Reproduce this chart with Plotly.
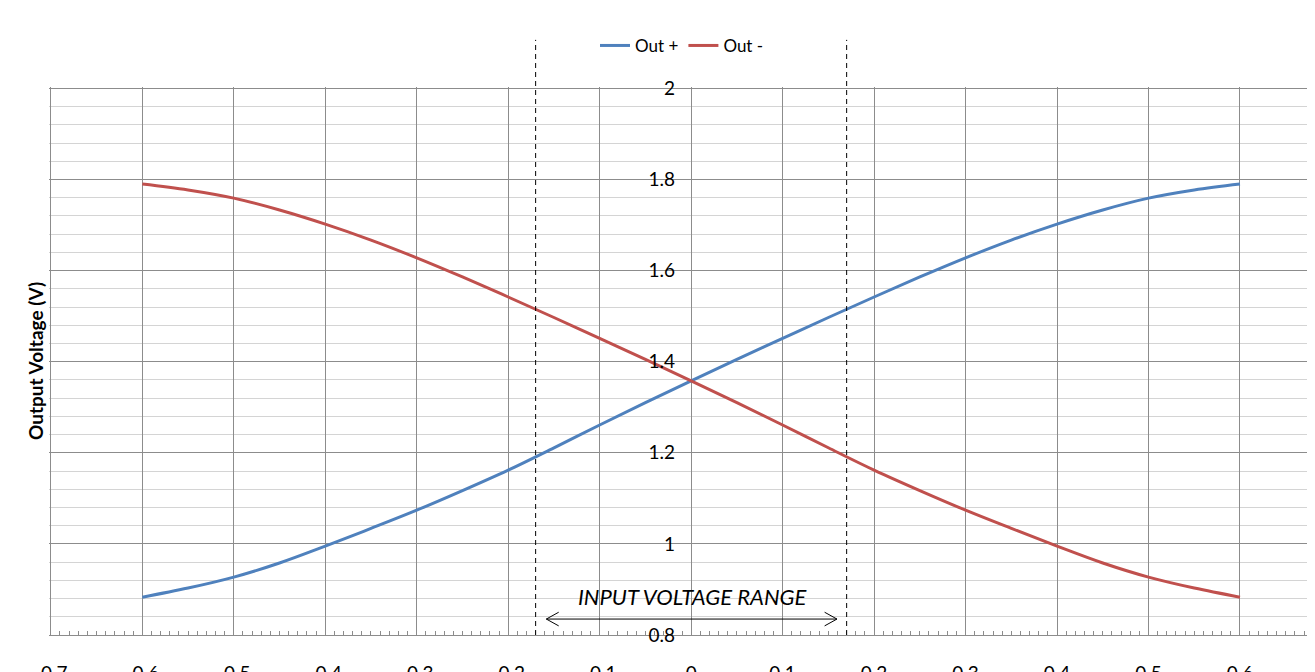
import plotly.graph_objects as go

# Data
x_in = [-0.6, -0.55, -0.5, -0.45, -0.4, -0.35, -0.3, -0.25, -0.2, -0.15, -0.1, -0.05,
        0.0, 0.05, 0.1, 0.15, 0.2, 0.25, 0.3, 0.35, 0.4, 0.45, 0.5, 0.55, 0.6]
out_plus = [0.883, 0.903, 0.927, 0.958, 0.995, 1.034, 1.074, 1.117, 1.162, 1.211, 1.261, 1.310,
            1.358, 1.405, 1.451, 1.497, 1.542, 1.586, 1.628, 1.667, 1.702, 1.733, 1.759, 1.777, 1.790]
out_minus = [1.790, 1.777, 1.759, 1.733, 1.702, 1.667, 1.628, 1.586, 1.542, 1.497, 1.451, 1.405,
             1.358, 1.310, 1.261, 1.211, 1.162, 1.117, 1.074, 1.034, 0.995, 0.958, 0.927, 0.903, 0.883]
range_limits = [-0.17, 0.17]
x_ticks = [-0.7, -0.6, -0.5, -0.4, -0.3, -0.2, -0.1, 0, 0.1, 0.2, 0.3, 0.4, 0.5, 0.6]
x_tick_text = ["-0.7", "-0.6", "-0.5", "-0.4", "-0.3", "-0.2", "-0.1", "0", "0.1", "0.2", "0.3", "0.4", "0.5", "0.6"]
y_ticks = [0.8, 1.0, 1.2, 1.4, 1.6, 1.8, 2.0]
y_tick_text = ["0.8", "1", "1.2", "1.4", "1.6", "1.8", "2"]

FONT = "Lato, 'Liberation Sans', sans-serif"
MAJOR = "#8c8c8c"
MINOR = "#d4d4d4"

# page body has an 8px margin: figure is sized/offset to compensate
W, H = 1307, 664
L, T = 41, 79
PLOT_W = 1266
B = H - (T + 548)

fig = go.Figure()
fig.add_trace(go.Scatter(x=x_in, y=out_plus, mode="lines", name="Out +",
                         line=dict(color="#4F81BD", width=3, shape="spline", smoothing=1.0)))
fig.add_trace(go.Scatter(x=x_in, y=out_minus, mode="lines", name="Out -",
                         line=dict(color="#C0504D", width=3, shape="spline", smoothing=1.0)))

# dashed vertical range markers
for xv in range_limits:
    fig.add_shape(type="line", xref="x", yref="paper", x0=xv, x1=xv, y0=0, y1=1.086,
                  line=dict(color="black", width=1, dash="5px,4px"))

# double-headed arrow with open chevrons
ya = 0.835
xl, xr = -0.1583, 0.1594
dx, dy = 0.0135, 0.015
fig.add_shape(type="line", xref="x", yref="y", x0=xl, x1=xr, y0=ya, y1=ya,
              line=dict(color="black", width=1))
fig.add_shape(type="path", xref="x", yref="y",
              path=f"M {xl+dx},{ya+dy} L {xl},{ya} L {xl+dx},{ya-dy}",
              line=dict(color="black", width=1))
fig.add_shape(type="path", xref="x", yref="y",
              path=f"M {xr-dx},{ya+dy} L {xr},{ya} L {xr-dx},{ya-dy}",
              line=dict(color="black", width=1))

fig.add_annotation(x=0.002, y=0.885, xref="x", yref="y", text="<i>INPUT VOLTAGE RANGE</i>",
                   showarrow=False, font=dict(family=FONT, size=22, color="black"))
fig.add_annotation(x=-14 / PLOT_W, y=0.5, xref="paper", yref="paper", xanchor="center",
                   yanchor="middle", text="<b>Output Voltage (V)</b>",
                   textangle=-90, showarrow=False, font=dict(family=FONT, size=19, color="black"))

fig.update_layout(
    width=W, height=H,
    margin=dict(l=L, r=W - L - PLOT_W, t=T, b=B, autoexpand=False),
    paper_bgcolor="white", plot_bgcolor="white",
    font=dict(family=FONT, size=16, color="black"),
    showlegend=True,
    legend=dict(orientation="h", x=0.5, xanchor="center", y=1.075, yanchor="middle",
                font=dict(family=FONT, size=17, color="black"), bgcolor="rgba(0,0,0,0)",
                itemwidth=30, tracegroupgap=0),
    xaxis=dict(range=[-0.702, 0.682], tickmode="array", tickvals=x_ticks, ticktext=x_tick_text,
               automargin=False,
               showgrid=True, gridcolor=MAJOR, gridwidth=1, zeroline=False,
               showline=True, linecolor=MAJOR, linewidth=1,
               ticks="", ticklabelstandoff=21,
               minor=dict(dtick=0.01, tick0=0, ticks="inside", ticklen=4, tickcolor=MAJOR,
                          tickwidth=1, showgrid=False),
               tickfont=dict(family=FONT, size=19, color="black")),
    yaxis=dict(range=[0.8, 2.003], tickmode="array", tickvals=y_ticks, ticktext=y_tick_text,
               automargin=False,
               anchor="free", position=(690 - 49) / PLOT_W,
               showgrid=True, gridcolor=MAJOR, gridwidth=1, zeroline=False,
               showline=False, ticks="", ticklabelstandoff=15,
               minor=dict(dtick=0.04, tick0=0.8, showgrid=True, gridcolor=MINOR, gridwidth=1),
               tickfont=dict(family=FONT, size=19, color="black")),
)

fig.write_html("out.html")
